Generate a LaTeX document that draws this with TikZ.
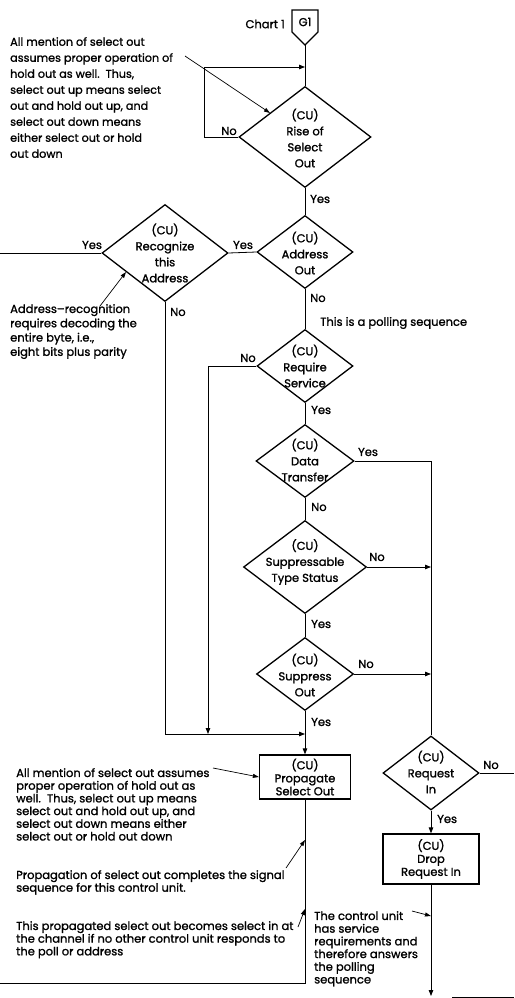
\documentclass[tikz,border=0pt]{standalone}
\usepackage{fontspec}
\setmainfont{Poppins}[FakeBold=1.3]
\usetikzlibrary{arrows.meta,shapes.geometric,calc}
\begin{document}
\begin{tikzpicture}[x=1pt,y=-1pt,
  ln/.style={line width=0.8pt},
  arr/.style={ln,-{Triangle[length=6pt,width=4.5pt]}},
  thinarr/.style={line width=0.7pt,-{Triangle[length=6pt,width=4pt]}},
  dia/.style={draw,shape=diamond,line width=1.3pt,inner sep=0pt},
  boxn/.style={draw,rectangle,line width=1.3pt,inner sep=0pt},
  lbl/.style={font=\fontsize{11.5}{12}\selectfont,inner sep=0pt},
  ctxt/.style={font=\fontsize{11.5}{16}\selectfont,align=center,inner sep=0pt},
  btxt/.style={font=\fontsize{11.5}{13}\selectfont,align=center,inner sep=0pt},
  note/.style={font=\fontsize{11.2}{16}\selectfont,align=left,inner sep=0pt,anchor=north west},
  notemid/.style={font=\fontsize{11.5}{14.3}\selectfont,align=left,inner sep=0pt,anchor=north west},
  notesm/.style={font=\fontsize{11.5}{12.7}\selectfont,align=left,inner sep=0pt,anchor=north west},
]
\useasboundingbox (0,0) rectangle (514,998);

% off-page connector
\coordinate (g1a) at (292,10);
\coordinate (g1b) at (318,10);
\coordinate (g1c) at (318,32);
\coordinate (g1tip) at (305,45);
\coordinate (g1d) at (292,32);
\draw[line width=1.3pt] (g1a) -- (g1b) -- (g1c) -- (g1tip) -- (g1d) -- cycle;
\node[lbl] (g1) at (305,22) {G1};
\node[lbl,anchor=east] (chart) at (285,24) {Chart 1};

% decisions
\node[dia,minimum width=132pt,minimum height=101pt] (rise) at (305,137) {};
\node[ctxt] (riset) at (305,138) {(CU)\\Rise of\\Select\\Out};
\node[dia,minimum width=96pt,minimum height=73pt] (addr) at (305,252) {};
\node[ctxt] (addrt) at (305,253) {(CU)\\Address\\Out};
\node[dia,minimum width=126pt,minimum height=97pt] (rec) at (165,253) {};
\node[ctxt] (rect) at (165,253) {(CU)\\Recognize\\this\\Address};
\node[dia,minimum width=96pt,minimum height=73pt] (req) at (305,366) {};
\node[ctxt] (reqt) at (305,366) {(CU)\\Require\\Service};
\node[dia,minimum width=98pt,minimum height=73pt] (dt) at (305,461) {};
\node[ctxt] (dtt) at (305,460) {(CU)\\Data\\Transfer};
\node[dia,minimum width=123pt,minimum height=93pt] (sts) at (305,567) {};
\node[ctxt] (stst) at (305,562) {(CU)\\Suppressable\\Type Status};
\node[dia,minimum width=97pt,minimum height=73pt] (so) at (305,674) {};
\node[ctxt] (sot) at (305,675) {(CU)\\Suppress\\Out};
\node[dia,minimum width=96pt,minimum height=74pt] (rqi) at (431,773) {};
\node[ctxt] (rqit) at (431,772) {(CU)\\Request\\In};

% processes
\node[boxn,minimum width=91pt,minimum height=44pt] (prop) at (305,777) {};
\node[btxt] (propt) at (305,777) {(CU)\\Propagate\\Select Out};
\node[boxn,minimum width=96pt,minimum height=50pt] (drop) at (431,859) {};
\node[btxt] (dropt) at (431,859) {(CU)\\Drop\\Request In};

% connectors
\coordinate (loopin) at (305,67);
\coordinate (leftend) at (0,253);
\coordinate (m1) at (208,734);
\coordinate (m2) at (305,734);
\coordinate (rightend) at (514,773);
\coordinate (bottomend) at (431,996);
\coordinate (bl) at (0,983);
\coordinate (brs) at (452,997);
\coordinate (bre) at (514,997);

\draw[ln] (g1tip) -- (rise.north);
\draw[arr] (rise.west) -- ++(-34,0) |- (loopin);
\draw[ln] (rise.south) -- (addr.north);
\draw[ln] (addr.west) -- (rec.east);
\draw[ln] (rec.west) -- (leftend);
\draw[ln] (addr.south) -- (req.north);
\draw[arr] (req.west) -| (m1);
\draw[arr] (rec.south) |- (m2);
\draw[ln] (req.south) -- (dt.north);
\draw[ln] (dt.south) -- (sts.north);
\draw[ln] (sts.south) -- (so.north);
\draw[arr] (so.south) -- (prop.north);
\draw[ln] (dt.east) -| (rqi.north);
\draw[arr] (sts.east) -- (sts.east -| rqi.north);
\draw[arr] (so.east) -- (so.east -| rqi.north);
\draw[ln] (rqi.east) -- (rightend);
\draw[arr] (rqi.south) -- (drop.north);
\draw[arr] (drop.south) -- (bottomend);
\draw[ln] (prop.south) |- (bl);
\draw[ln] (brs) -- (bre);

% labels
\node[lbl] (l1) at (229,131) {No};
\node[lbl,anchor=west] (l2) at (310,199) {Yes};
\node[lbl] (l3) at (243,245) {Yes};
\node[lbl] (l4) at (92,245) {Yes};
\node[lbl,anchor=west] (l5) at (170,312) {No};
\node[lbl,anchor=west] (l6) at (310,298) {No};
\node[lbl,anchor=west] (l7) at (320,323) {This is a polling sequence};
\node[lbl] (l8) at (248,358) {No};
\node[lbl,anchor=west] (l9) at (311,410) {Yes};
\node[lbl] (l10) at (368,452) {Yes};
\node[lbl,anchor=west] (l11) at (311,507) {No};
\node[lbl] (l12) at (377,557) {No};
\node[lbl,anchor=west] (l13) at (311,624) {Yes};
\node[lbl] (l14) at (366,664) {No};
\node[lbl,anchor=west] (l15) at (311,722) {Yes};
\node[lbl] (l16) at (491,765) {No};
\node[lbl,anchor=west] (l17) at (437,819) {Yes};

% notes
\node[note] (n1) at (10,37) {All mention of select out\\assumes proper operation of\\hold out as well.\ \ Thus,\\select out up means select\\out and hold out up, and\\select out down means\\either select out or hold\\out down};
\node[notemid] (n2) at (10,304) {Address--recognition\\requires decoding the\\entire byte, i.e.,\\eight bits plus parity};
\node[notesm] (n3) at (16,768) {All mention of select out assumes\\proper operation of hold out as\\well.\ \ Thus, select out up means\\select out and hold out up, and\\select out down means either\\select out or hold out down};
\node[notesm] (n4) at (16,870) {Propagation of select out completes the signal\\sequence for this control unit.};
\node[notesm] (n5) at (16,921) {This propagated select out becomes select in at\\the channel if no other control unit responds to\\the poll or address};
\node[notesm] (n6) at (314,911) {The control unit\\has service\\requirements and\\therefore answers\\the polling\\sequence};

% note arrows
\coordinate (a1s) at (185,56);
\coordinate (a1e) at (270,113);
\coordinate (a2s) at (100,306);
\coordinate (a2e) at (126,272);
\coordinate (a3s) at (213,768);
\coordinate (a4s) at (286,868);
\coordinate (a4e) at (305,840);
\coordinate (a5s) at (298,927);
\coordinate (a5e) at (305,909);
\coordinate (a6s) at (412,911);
\coordinate (a6e) at (431,916);
\draw[thinarr] (a1s) -- (a1e);
\draw[thinarr] (a2s) -- (a2e);
\draw[thinarr] (a3s) -- (prop.west);
\draw[thinarr] (a4s) -- (a4e);
\draw[thinarr] (a5s) -- (a5e);
\draw[thinarr] (a6s) -- (a6e);
\end{tikzpicture}
\end{document}
